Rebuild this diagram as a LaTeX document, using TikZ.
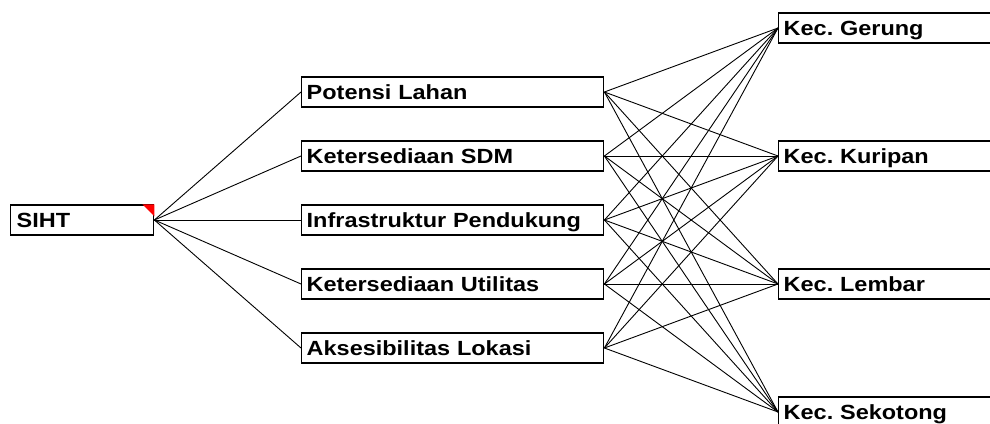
\documentclass[tikz,border=0pt]{standalone}
\usepackage{fontspec}
\setmainfont{Liberation Sans}[FakeStretch=1.145]
\frenchspacing
\begin{document}
\begin{tikzpicture}[x=1pt,y=-1pt,
  box/.style={draw=black, line width=1.4pt, fill=white, anchor=west,
    inner xsep=5pt, inner ysep=5pt, text height=17pt, text depth=3pt,
    align=left, font=\fontsize{20.5}{24}\selectfont\bfseries\frenchspacing},
  midbox/.style={box, text width=292pt},
  rbox/.style={box, text width=250pt},
  link/.style={draw=black, line width=0.9pt}]
\useasboundingbox (0,0) rectangle (990,423);
\clip (0,0) rectangle (990,423);
\fill[white] (0,0) rectangle (990,423);
% root
\node[box, text width=131pt, inner xsep=6pt] (siht) at (10,220) {SIHT};
\fill[red] ([xshift=-12pt]siht.north east) -- (siht.north east) -- ([yshift=-12pt]siht.north east) -- cycle;
% middle
\node[midbox] (m1) at (301,92) {Potensi Lahan};
\node[midbox] (m2) at (301,156) {Ketersediaan SDM};
\node[midbox] (m3) at (301,220) {Infrastruktur Pendukung};
\node[midbox] (m4) at (301,284) {Ketersediaan Utilitas};
\node[midbox] (m5) at (301,348) {Aksesibilitas Lokasi};
% right
\node[rbox] (r1) at (778,28) {Kec. Gerung};
\node[rbox] (r2) at (778,156) {Kec. Kuripan};
\node[rbox] (r3) at (778,284) {Kec. Lembar};
\node[rbox] (r4) at (778,412) {Kec. Sekotong};
% links
\foreach \m in {m1,m2,m3,m4,m5} {
  \draw[link] (siht.east) -- (\m.west);
  \foreach \r in {r1,r2,r3,r4} {
    \draw[link] (\m.east) -- (\r.west);
  }
}
\end{tikzpicture}
\end{document}
